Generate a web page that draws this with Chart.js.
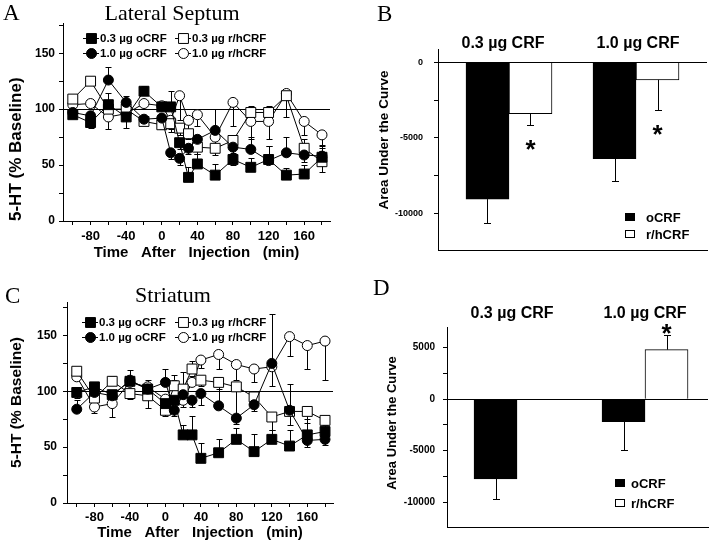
<!DOCTYPE html>
<html>
<head>
<meta charset="utf-8">
<script src="https://cdn.jsdelivr.net/npm/chart.js@4.4.1/dist/chart.umd.min.js"></script>
<style>
  html, body { margin: 0; padding: 0; background: #fff; }
  #wrap { position: relative; width: 720px; height: 545px; overflow: hidden; }
  canvas { position: absolute; }
</style>
</head>
<body>
<div id="wrap">
  <canvas id="chartA" width="360" height="270" style="left:0;top:0"></canvas>
  <canvas id="chartB" width="360" height="270" style="left:360px;top:0"></canvas>
  <canvas id="chartC" width="360" height="275" style="left:0;top:270px"></canvas>
  <canvas id="chartD" width="360" height="275" style="left:360px;top:270px"></canvas>
</div>
<script>
const SANS = '"Liberation Sans", Arial, Helvetica, sans-serif';
const SERIF = '"Liberation Serif", "Times New Roman", serif';
Chart.defaults.font.family = SANS;
Chart.defaults.color = '#000';
Chart.defaults.animation = false;

// ---- time course data (minutes after injection) ----
const timePoints = [-100, -80, -60, -40, -20, 0, 10, 20, 30, 40, 60, 80, 100, 120, 140, 160, 180];
const timeTicks = [-100, -80, -60, -40, -20, 0, 20, 40, 60, 80, 100, 120, 140, 160, 180];
const timeLabels = [-80, -40, 0, 40, 80, 120, 160];
const pctTicks = [0, 25, 50, 75, 100, 125, 150, 175];
const pctLabels = [0, 50, 100, 150];
const seriesNames = ['0.3 µg oCRF', '1.0 µg oCRF', '0.3 µg r/hCRF', '1.0 µg r/hCRF'];

// Lateral septum (% baseline), errors signed: + drawn up, - drawn down
const lsO03 = [95, 88, 104, 93, 116, 102, 102, 70, 39, 51, 41, 55, 48, 55, 41, 42, 57];
const lsO10 = [97, 94, 126, 106, 91, 92, 61, 56, 65, 73, 81, 66, 64, 54, 61, 59, 58];
const lsR03 = [109, 125, 100, 100, 89, 86, 87, 83, 78, 66, 65, 72, 97, 97, 112, 65, 53];
const lsR10 = [104, 105, 93, 96, 105, 103, 90, 112, 90, 95, 75, 106, 89, 89, 114, 89, 77];
const lsO03Err = [-3, -5, 10, -10, 5, 4, 14, -6, 9, 9, 10, -5, 8, 12, 6, 8, 8];
const lsO10Err = [-3, -4, 12, 6, -4, -5, -6, -6, -5, -6, 19, -5, 11, 13, 14, -6, 10];
const lsR03Err = [3, 3, -4, -3, -3, -4, -5, -6, -5, -6, -6, 5, 6, 6, 5, 8, -9];
const lsR10Err = [4, 3, -11, -4, 3, 4, -10, -22, -8, -10, -6, -21, -16, -16, -21, -12, -10];

// Striatum (% baseline)
const stO03 = [99, 104, 97, 109, 102, 89, 92, 61, 61, 40, 45, 57, 46, 57, 51, 61, 64];
const stO10 = [84, 99, 96, 110, 102, 108, 83, 97, 92, 98, 87, 76, 88, 125, 83, 56, 57];
const stR03 = [118, 94, 109, 98, 96, 83, 105, 102, 120, 110, 108, 104, 95, 77, 82, 82, 74];
const stR10 = [113, 86, 89, 108, 104, 93, 98, 92, 108, 128, 133, 124, 120, 122, 149, 141, 145];
const stO03Err = [-5, 4, -6, 5, -5, -6, 23, 9, 17, 14, 12, 10, 16, 8, 14, 14, 6];
const stO10Err = [8, -4, -5, 9, 4, 12, -5, -5, -6, -10, 22, -5, -6, 44, -13, -6, -5];
const stR03Err = [4, -5, 5, -5, -11, -5, 5, 15, 7, -5, -6, -28, 5, -12, 25, -10, -8];
const stR10Err = [4, -5, -12, 5, 6, -4, -5, -6, 6, -7, -13, -14, -12, -17, -17, -21, -35];

// ---- area under the curve ----
const doseGroups = ['0.3 µg CRF', '1.0 µg CRF'];
const aucNames = ['oCRF', 'r/hCRF'];
const aucTicksB = [-10000, -7500, -5000, -2500, 0];
const aucTicksD = [-10000, -7500, -5000, -2500, 0, 2500, 5000];
const aucLabels = [-10000, -5000, 0, 5000];

const lsAucO = [-9070, -6390];
const lsAucR = [-3400, -1150];
const lsAucOErr = [-1590, -1510];
const lsAucRErr = [-760, -1990];
const lsAucStar = [true, true];

const stAucO = [-7740, -2190];
const stAucR = [0, 4800];
const stAucOErr = [-1960, -2740];
const stAucRErr = [0, 1390];
const stAucStar = [false, true];

// ---- plugins ----
const notesPlugin = {
  id: 'notes',
  afterDraw(chart, args, opts) {
    const ctx = chart.ctx;
    (opts.items || []).forEach(it => {
      ctx.save();
      ctx.font = it.font;
      ctx.fillStyle = '#000';
      ctx.textAlign = it.align || 'left';
      ctx.textBaseline = it.baseline || 'alphabetic';
      ctx.translate(it.x, it.y);
      if (it.rotate) ctx.rotate(it.rotate);
      ctx.fillText(it.text, 0, 0);
      ctx.restore();
    });
  }
};

function valueOf(d) {
  return (d !== null && typeof d === 'object') ? d.y : d;
}

function drawErrors(chart, cap) {
  const ctx = chart.ctx;
  const yScale = chart.scales.y;
  ctx.save();
  ctx.strokeStyle = '#000';
  ctx.lineWidth = 1;
  chart.data.datasets.forEach((ds, di) => {
    const meta = chart.getDatasetMeta(di);
    meta.data.forEach((el, i) => {
      const err = ds.errors ? ds.errors[i] : 0;
      if (!err) return;
      const v = valueOf(ds.data[i]);
      const x = Math.round(el.x) + 0.5;
      const y1 = Math.round(yScale.getPixelForValue(v + err)) + 0.5;
      ctx.beginPath();
      ctx.moveTo(x, el.y);
      ctx.lineTo(x, y1);
      ctx.moveTo(x - cap, y1);
      ctx.lineTo(x + cap, y1);
      ctx.stroke();
    });
  });
  ctx.restore();
}

const pointErrorPlugin = {
  id: 'pointErrors',
  beforeDatasetsDraw(chart) { drawErrors(chart, 3); }
};
const barErrorPlugin = {
  id: 'barErrors',
  afterDatasetsDraw(chart) { drawErrors(chart, 3.5); }
};

function drawMarker(ctx, ds, x, y) {
  ctx.fillStyle = ds.pointBackgroundColor;
  ctx.strokeStyle = '#000';
  ctx.lineWidth = 1;
  ctx.beginPath();
  if (ds.pointStyle === 'rect') {
    const s = ds.pointRadius * Math.SQRT1_2;
    ctx.rect(x - s, y - s, 2 * s, 2 * s);
  } else {
    ctx.arc(x, y, ds.pointRadius, 0, Math.PI * 2);
  }
  ctx.fill();
  ctx.stroke();
}

const lineLegendPlugin = {
  id: 'lineLegend',
  afterDraw(chart, args, opts) {
    const ctx = chart.ctx;
    chart.data.datasets.forEach((ds, i) => {
      const x = opts.x[Math.floor(i / 2)];
      const y = opts.y[i % 2];
      ctx.save();
      ctx.strokeStyle = '#000';
      ctx.lineWidth = 1;
      ctx.beginPath();
      ctx.moveTo(x, y + 0.5);
      ctx.lineTo(x + 16, y + 0.5);
      ctx.stroke();
      drawMarker(ctx, ds, x + 8.5, y + 0.5);
      ctx.font = opts.font;
      ctx.fillStyle = '#000';
      ctx.textAlign = 'left';
      ctx.textBaseline = 'middle';
      ctx.fillText(ds.label, x + 17, y + 1);
      ctx.restore();
    });
  }
};

const barLegendPlugin = {
  id: 'barLegend',
  afterDraw(chart, args, opts) {
    const ctx = chart.ctx;
    chart.data.datasets.forEach((ds, i) => {
      const y = Math.round(opts.y + i * opts.gap);
      ctx.save();
      ctx.fillStyle = ds.backgroundColor;
      ctx.fillRect(opts.x, y - 4, 10, 8);
      ctx.strokeStyle = '#000';
      ctx.lineWidth = 1;
      ctx.strokeRect(opts.x + 0.5, y - 3.5, 9, 7);
      ctx.font = opts.font;
      ctx.fillStyle = '#000';
      ctx.textBaseline = 'middle';
      ctx.fillText(ds.label, opts.x + opts.textDx, y + 1);
      ctx.restore();
    });
  }
};

const groupLabelPlugin = {
  id: 'groupLabels',
  afterDraw(chart, args, opts) {
    const ctx = chart.ctx;
    const xs = chart.scales.x;
    ctx.save();
    ctx.font = opts.font;
    ctx.fillStyle = '#000';
    ctx.textAlign = 'center';
    chart.data.labels.forEach((lab, i) => {
      ctx.fillText(lab, xs.getPixelForValue(i) + (opts.dx ? opts.dx[i] : 0), opts.y);
    });
    ctx.restore();
  }
};

const starPlugin = {
  id: 'stars',
  afterDatasetsDraw(chart, args, opts) {
    const ctx = chart.ctx;
    const ys = chart.scales.y;
    const ds = chart.data.datasets[opts.dataset];
    const meta = chart.getDatasetMeta(opts.dataset);
    ctx.save();
    ctx.font = 'bold 26px ' + SANS;
    ctx.fillStyle = '#000';
    ctx.textAlign = 'center';
    opts.flags.forEach((on, i) => {
      if (!on) return;
      const v = valueOf(ds.data[i]) + ds.errors[i];
      const cy = ys.getPixelForValue(v) + opts.offset;
      ctx.fillText('*', meta.data[i].x, cy + 14);
    });
    ctx.restore();
  }
};

// ---- builders ----
function lineDataset(label, values, errors, style, filled) {
  return {
    label: label,
    data: values.map((v, i) => ({ x: timePoints[i], y: v })),
    errors: errors,
    borderColor: '#000',
    borderWidth: 1,
    tension: 0,
    pointStyle: style,
    pointRadius: style === 'rect' ? 7 : 5,
    pointBorderWidth: 1,
    pointBorderColor: '#000',
    pointBackgroundColor: filled ? '#000' : '#fff'
  };
}

function timeCourse(id, cfg) {
  return new Chart(document.getElementById(id), {
    type: 'line',
    data: {
      datasets: [
        lineDataset(seriesNames[0], cfg.o03, cfg.o03Err, 'rect', true),
        lineDataset(seriesNames[1], cfg.o10, cfg.o10Err, 'circle', true),
        lineDataset(seriesNames[2], cfg.r03, cfg.r03Err, 'rect', false),
        lineDataset(seriesNames[3], cfg.r10, cfg.r10Err, 'circle', false)
      ]
    },
    options: {
      responsive: false,
      devicePixelRatio: 1,
      layout: { padding: cfg.padding },
      plugins: {
        legend: { display: false },
        tooltip: { enabled: false },
        notes: { items: cfg.notes },
        lineLegend: cfg.legend
      },
      scales: {
        x: {
          type: 'linear',
          min: -111,
          max: 189,
          afterBuildTicks: s => { s.ticks = timeTicks.map(v => ({ value: v })); },
          afterFit: s => { s.height = cfg.xHeight; },
          ticks: {
            autoSkip: false,
            maxRotation: 0,
            padding: cfg.xPad,
            font: { size: 13, weight: 'bold' },
            callback: v => timeLabels.includes(v) ? String(v) : ''
          },
          grid: { drawOnChartArea: false, tickLength: 4, tickColor: '#000' },
          border: { color: '#000', width: 1 },
          title: {
            display: true,
            text: 'Time   After   Injection   (min)',
            font: { size: 15, weight: 'bold' },
            padding: { top: 0, bottom: cfg.xTitlePad }
          }
        },
        y: {
          min: 0,
          max: cfg.yMax,
          afterBuildTicks: s => { s.ticks = pctTicks.map(v => ({ value: v })); },
          afterFit: s => { s.width = cfg.yWidth; },
          ticks: {
            autoSkip: false,
            padding: cfg.yPad,
            font: { size: 12, weight: 'bold' },
            callback: v => pctLabels.includes(v) ? String(v) : ''
          },
          grid: {
            color: c => (c.tick && c.tick.value === 100) ? '#000' : 'rgba(0,0,0,0)',
            lineWidth: 1,
            tickLength: 4,
            tickColor: '#000'
          },
          border: { color: '#000', width: 1 },
          title: {
            display: true,
            text: '5-HT (% Baseline)',
            align: cfg.yTitleAlign,
            font: { size: cfg.yTitleSize, weight: 'bold' },
            padding: { top: cfg.yTitlePad, bottom: 0 }
          }
        }
      }
    },
    plugins: [pointErrorPlugin, notesPlugin, lineLegendPlugin]
  });
}

function aucChart(id, cfg) {
  return new Chart(document.getElementById(id), {
    type: 'bar',
    data: {
      labels: doseGroups,
      datasets: [
        {
          label: aucNames[0],
          data: cfg.o.map((v, i) => ({ x: i, y: v })),
          errors: cfg.oErr,
          backgroundColor: '#000',
          borderColor: '#000',
          borderWidth: 1,
          barThickness: 43
        },
        {
          label: aucNames[1],
          data: cfg.r.map((v, i) => ({ x: i, y: v })),
          errors: cfg.rErr,
          backgroundColor: '#fff',
          borderColor: '#000',
          borderWidth: 1,
          barThickness: 43
        }
      ]
    },
    options: {
      responsive: false,
      devicePixelRatio: 1,
      layout: { padding: cfg.padding },
      plugins: {
        legend: { display: false },
        tooltip: { enabled: false },
        notes: { items: cfg.notes },
        barLegend: cfg.legend,
        groupLabels: { font: 'bold 16px ' + SANS, y: 48, dx: cfg.labelDx },
        stars: { dataset: 1, flags: cfg.stars, offset: cfg.starOffset }
      },
      scales: {
        x: {
          type: 'linear',
          offset: false,
          min: cfg.xMin,
          max: cfg.xMax,
          afterBuildTicks: s => { s.ticks = doseGroups.map((g, i) => ({ value: i })); },
          afterFit: s => { s.height = cfg.xHeight; },
          ticks: { display: false },
          grid: { display: false, offset: false },
          border: { color: '#000', width: 1 }
        },
        y: {
          min: cfg.yMin,
          max: cfg.yMax,
          afterBuildTicks: s => { s.ticks = cfg.yTicks.map(v => ({ value: v })); },
          afterFit: s => { s.width = cfg.yWidth; },
          ticks: {
            autoSkip: false,
            padding: cfg.yPad,
            font: { size: cfg.tickSize, weight: 'bold' },
            callback: v => aucLabels.includes(v) ? String(v) : ''
          },
          grid: {
            color: c => (c.tick && c.tick.value === 0) ? '#000' : 'rgba(0,0,0,0)',
            lineWidth: 1,
            tickLength: 4,
            tickColor: '#000'
          },
          border: { color: '#000', width: 1 }
        }
      }
    },
    plugins: [barErrorPlugin, starPlugin, notesPlugin, barLegendPlugin, groupLabelPlugin]
  });
}

timeCourse('chartA', {
  o03: lsO03, o10: lsO10, r03: lsR03, r10: lsR10,
  o03Err: lsO03Err, o10Err: lsO10Err, r03Err: lsR03Err, r10Err: lsR10Err,
  padding: { left: 0, top: 23, right: 30, bottom: 0 },
  xHeight: 49, yWidth: 63, xPad: 4, yPad: 4, xTitlePad: 8,
  yMax: 177, yTitleAlign: 'start', yTitleSize: 17, yTitlePad: 6,
  legend: { x: [83, 175], y: [38, 53], font: 'bold 11.5px ' + SANS },
  notes: [
    { text: 'A', x: 3, y: 20, font: '23px ' + SERIF },
    { text: 'Lateral Septum', x: 172, y: 20, align: 'center', font: '22px ' + SERIF }
  ]
});

timeCourse('chartC', {
  o03: stO03, o10: stO10, r03: stR03, r10: stR10,
  o03Err: stO03Err, o10Err: stO10Err, r03Err: stR03Err, r10Err: stR10Err,
  padding: { left: 0, top: 32, right: 27, bottom: 0 },
  xHeight: 42, yWidth: 67, xPad: 3, yPad: 6, xTitlePad: 3,
  yMax: 180, yTitleAlign: 'center', yTitleSize: 15.5, yTitlePad: 7,
  legend: { x: [82, 175], y: [52, 67], font: 'bold 11.5px ' + SANS },
  notes: [
    { text: 'C', x: 5, y: 33, font: '23px ' + SERIF },
    { text: 'Striatum', x: 173, y: 32, align: 'center', font: '22px ' + SERIF }
  ]
});

aucChart('chartB', {
  o: lsAucO, r: lsAucR, oErr: lsAucOErr, rErr: lsAucRErr, stars: lsAucStar, starOffset: 19,
  padding: { left: 0, top: 49, right: 13, bottom: 0 },
  xMin: -0.559, xMax: 1.559, xHeight: 20, yWidth: 78, yPad: 11, tickSize: 9,
  yMin: -12450, yMax: 900, yTicks: aucTicksB, labelDx: [-6, 2],
  legend: { x: 265, y: 217, gap: 17, textDx: 21, font: 'bold 13px ' + SANS },
  notes: [
    { text: 'B', x: 17, y: 21, font: '23px ' + SERIF },
    { text: 'Area Under the Curve', x: 24, y: 140, rotate: -Math.PI / 2, align: 'center', baseline: 'middle', font: 'bold 13.5px ' + SANS }
  ]
});

aucChart('chartD', {
  o: stAucO, r: stAucR, oErr: stAucOErr, rErr: stAucRErr, stars: stAucStar, starOffset: -7,
  padding: { left: 0, top: 57, right: 12, bottom: 0 },
  xMin: -0.547, xMax: 1.492, xHeight: 18, yWidth: 87, yPad: 8, tickSize: 10,
  yMin: -12400, yMax: 7000, yTicks: aucTicksD, labelDx: [-5, 0],
  legend: { x: 255, y: 213, gap: 20, textDx: 16, font: 'bold 13px ' + SANS },
  notes: [
    { text: 'D', x: 13, y: 25, font: '23px ' + SERIF },
    { text: 'Area Under the Curve', x: 32, y: 153, rotate: -Math.PI / 2, align: 'center', baseline: 'middle', font: 'bold 13px ' + SANS }
  ]
});
</script>
</body>
</html>
